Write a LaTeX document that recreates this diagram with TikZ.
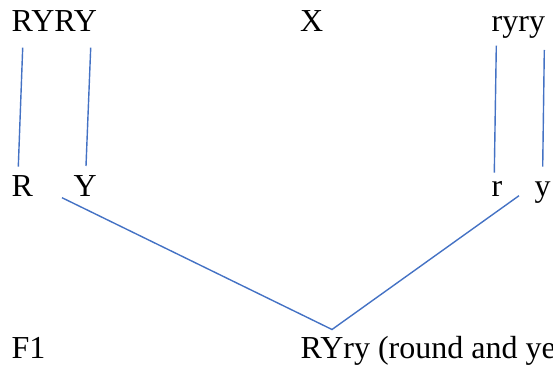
\documentclass[tikz,border=0pt]{standalone}
\usepackage{fontspec}
\setmainfont{Liberation Serif}
\usepackage{xcolor}
\usepackage{tikz}
\usetikzlibrary{positioning}
\definecolor{linkblue}{HTML}{4472C4}
\tikzset{lbl/.style={inner sep=0pt,anchor=base west,font=\fontsize{32}{38}\selectfont},
  link/.style={draw=linkblue,line width=1.4pt}}

\begin{document}
\begin{tikzpicture}[x=1pt,y=1pt]
\useasboundingbox (0,0) rectangle (553,369);
% parents
\node[lbl] (pdom) at (11.5,337) {RYRY};
\node[lbl] (cross) at (300,337) {X};
\node[lbl] (prec) at (491.5,337) {ryry};
% gametes
\node[lbl] (gR) at (11.5,172) {R};
\node[lbl] (gY) at (73.5,172) {Y};
\node[lbl] (gr) at (491.5,172) {r};
\node[lbl] (gy) at (534.5,172) {y};
% offspring
\node[lbl] (fone) at (11.5,11) {F1};
\node[lbl] (hyb) at (300.5,11) {RYry (round and ye};
% line ends
\coordinate (aR) at (22.7,321.3);  \coordinate (bR) at (18.3,202.3);
\coordinate (aY) at (90.7,321.3);  \coordinate (bY) at (86,203);
\coordinate (ar) at (496.3,323.3); \coordinate (br) at (494.3,196.3);
\coordinate (ay) at (544.3,319);   \coordinate (by) at (542.7,202.3);
\coordinate (mL) at (62,171.3);    \coordinate (mR) at (519,173.3);
\coordinate (tip) at (332,39.5);
\draw[link] (aR)--(bR);
\draw[link] (aY)--(bY);
\draw[link] (ar)--(br);
\draw[link] (ay)--(by);
\draw[link] (mL)--(tip)--(mR);
\end{tikzpicture}
\end{document}
